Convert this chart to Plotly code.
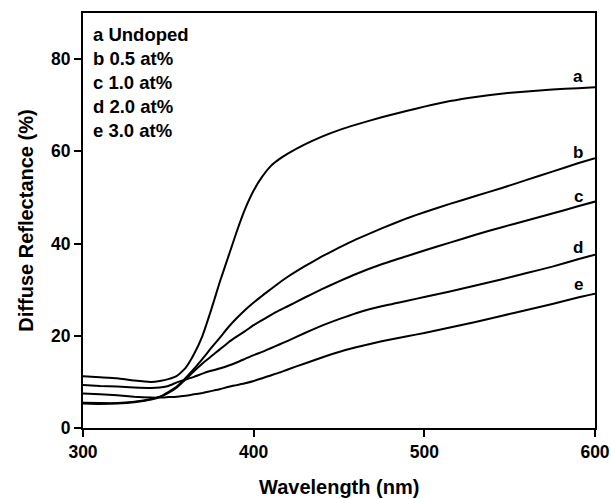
import plotly.graph_objects as go

wavelength = [300, 310, 320, 330, 340, 345, 350, 355, 360, 365, 370, 375, 380, 385, 390, 395,
              400, 405, 410, 415, 420, 430, 440, 450, 460, 475, 490, 500, 515, 530, 545, 560,
              575, 590, 600]

refl_a = [11.2, 11.0, 10.8, 10.3, 10.0, 10.2, 10.6, 11.3, 13.0, 16.0, 20.0, 25.5, 31.5, 37.0, 42.5, 47.5,
          51.5, 54.5, 56.8, 58.3, 59.5, 61.5, 63.2, 64.6, 65.8, 67.4, 68.8, 69.7, 70.9, 71.8, 72.5, 73.0,
          73.4, 73.7, 73.9]
refl_b = [5.5, 5.4, 5.4, 5.7, 6.3, 6.8, 7.8, 9.0, 10.8, 12.8, 15.0, 17.3, 19.5, 21.8, 23.8, 25.6,
          27.2, 28.7, 30.1, 31.5, 32.8, 35.1, 37.2, 39.1, 40.9, 43.3, 45.5, 46.8, 48.6, 50.3, 52.0, 53.8,
          55.6, 57.4, 58.5]
refl_c = [5.3, 5.2, 5.3, 5.6, 6.2, 6.7, 7.6, 8.8, 10.5, 12.3, 14.0, 15.5, 17.0, 18.5, 19.8, 21.0,
          22.3, 23.4, 24.5, 25.5, 26.4, 28.3, 30.1, 31.8, 33.4, 35.5, 37.3, 38.5, 40.2, 41.9, 43.5, 45.0,
          46.5, 48.1, 49.1]
refl_d = [9.3, 9.1, 9.0, 8.8, 8.7, 8.8, 9.1, 9.9, 10.5, 11.1, 11.8, 12.4, 12.9, 13.5, 14.2, 15.0,
          15.8, 16.5, 17.3, 18.1, 18.9, 20.6, 22.2, 23.6, 24.9, 26.4, 27.6, 28.4, 29.6, 30.9, 32.2, 33.6,
          35.0, 36.6, 37.6]
refl_e = [7.5, 7.3, 7.1, 6.8, 6.6, 6.6, 6.7, 6.8, 7.0, 7.3, 7.6, 8.0, 8.4, 8.9, 9.3, 9.7,
          10.2, 10.8, 11.4, 12.0, 12.7, 14.0, 15.3, 16.5, 17.5, 18.8, 19.9, 20.6, 21.8, 23.0, 24.3, 25.6,
          26.9, 28.3, 29.1]

curve_labels = ["a", "b", "c", "d", "e"]
legend_lines = ["a Undoped", "b 0.5 at%", "c 1.0 at%", "d 2.0 at%", "e 3.0 at%"]
x_ticks = [300, 400, 500, 600]
y_ticks = [0, 20, 40, 60, 80]
x_title = "Wavelength (nm)"
y_title = "Diffuse Reflectance (%)"

FONT = "Liberation Sans, Arial, sans-serif"

fig = go.Figure()
for ys, name in zip([refl_a, refl_b, refl_c, refl_d, refl_e], curve_labels):
    fig.add_trace(go.Scatter(x=wavelength, y=ys, mode="lines", name=name,
                             line=dict(color="black", width=2, shape="spline", smoothing=0.4),
                             showlegend=False))

# curve end labels (paper coords)
label_y = [0.846, 0.665, 0.557, 0.436, 0.345]
for lab, yy in zip(curve_labels, label_y):
    fig.add_annotation(text=lab, xref="paper", yref="paper", x=0.967, y=yy,
                       xanchor="center", yanchor="middle", showarrow=False,
                       font=dict(family=FONT, size=17, color="black", weight="bold"))

# legend text block
legend_y = [0.948, 0.890, 0.832, 0.774, 0.716]
for txt, yy in zip(legend_lines, legend_y):
    fig.add_annotation(text=txt, xref="paper", yref="paper", x=0.015, y=yy,
                       xanchor="left", yanchor="middle", showarrow=False,
                       font=dict(family=FONT, size=18.5, color="black", weight="bold"))

# axis titles
fig.add_annotation(text=x_title, xref="paper", yref="paper", x=0.5, y=-0.142,
                   xanchor="center", yanchor="middle", showarrow=False,
                   font=dict(family=FONT, size=20, color="black", weight="bold"))
fig.add_annotation(text=y_title, xref="paper", yref="paper", x=-0.113, y=0.5,
                   xanchor="center", yanchor="middle", showarrow=False, textangle=-90,
                   font=dict(family=FONT, size=20, color="black", weight="bold"))

axis_common = dict(showgrid=False, zeroline=False, showline=True, linecolor="black",
                   linewidth=2, mirror=True, ticks="outside", ticklen=7, tickwidth=2,
                   tickcolor="black", automargin=False,
                   tickfont=dict(family=FONT, size=17.5, color="black", weight="bold"))

fig.update_xaxes(range=[300, 600], tickvals=x_ticks, **axis_common)
fig.update_yaxes(range=[0, 90], tickvals=y_ticks, **axis_common)

fig.update_layout(width=611, height=499, margin=dict(l=83, r=16, t=13, b=71),
                  plot_bgcolor="white", paper_bgcolor="white")

fig.write_html("out.html")
